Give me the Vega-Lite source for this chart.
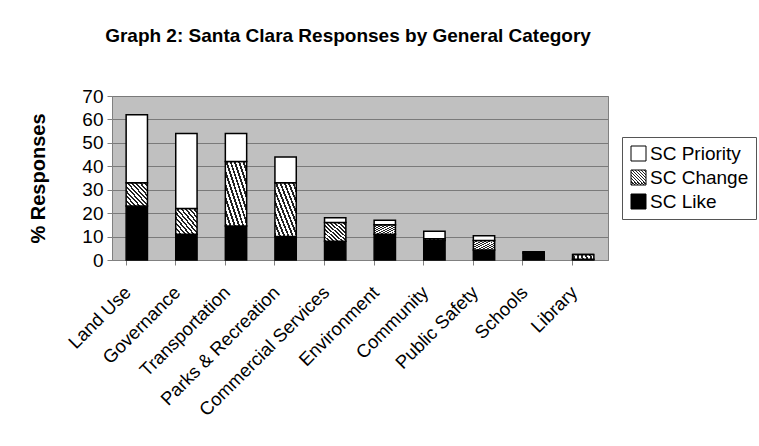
{
  "$schema": "https://vega.github.io/schema/vega-lite/v6.json",
  "width": 496,
  "height": 164,
  "autosize": {"type": "none"},
  "padding": {"left": 112, "top": 96, "right": 151, "bottom": 186},
  "background": "white",
  "config": {
    "font": "Liberation Sans",
    "view": {"fill": "#c0c0c0", "stroke": "#808080", "strokeWidth": 1}
  },
  "title": {
    "text": "Graph 2: Santa Clara Responses by General Category",
    "font": "Liberation Sans",
    "fontSize": 19,
    "fontWeight": "bold",
    "color": "black",
    "anchor": "middle",
    "frame": "group",
    "baseline": "alphabetic",
    "offset": 26,
    "dx": -12
  },
  "data": {
    "values": [
      {"category": "Land Use", "series": "SC Like", "value": 23},
      {"category": "Land Use", "series": "SC Change", "value": 10},
      {"category": "Land Use", "series": "SC Priority", "value": 29},
      {"category": "Governance", "series": "SC Like", "value": 11},
      {"category": "Governance", "series": "SC Change", "value": 11},
      {"category": "Governance", "series": "SC Priority", "value": 32},
      {"category": "Transportation", "series": "SC Like", "value": 14.5},
      {"category": "Transportation", "series": "SC Change", "value": 27.5},
      {"category": "Transportation", "series": "SC Priority", "value": 12},
      {"category": "Parks & Recreation", "series": "SC Like", "value": 10},
      {"category": "Parks & Recreation", "series": "SC Change", "value": 23},
      {"category": "Parks & Recreation", "series": "SC Priority", "value": 11},
      {"category": "Commercial Services", "series": "SC Like", "value": 8},
      {"category": "Commercial Services", "series": "SC Change", "value": 8},
      {"category": "Commercial Services", "series": "SC Priority", "value": 2},
      {"category": "Environment", "series": "SC Like", "value": 11},
      {"category": "Environment", "series": "SC Change", "value": 4},
      {"category": "Environment", "series": "SC Priority", "value": 2},
      {"category": "Community", "series": "SC Like", "value": 8.3},
      {"category": "Community", "series": "SC Change", "value": 0.8},
      {"category": "Community", "series": "SC Priority", "value": 3.2},
      {"category": "Public Safety", "series": "SC Like", "value": 4.3},
      {"category": "Public Safety", "series": "SC Change", "value": 4},
      {"category": "Public Safety", "series": "SC Priority", "value": 2},
      {"category": "Schools", "series": "SC Like", "value": 3},
      {"category": "Schools", "series": "SC Change", "value": 0.5},
      {"category": "Schools", "series": "SC Priority", "value": 0},
      {"category": "Library", "series": "SC Like", "value": 0.3},
      {"category": "Library", "series": "SC Change", "value": 2},
      {"category": "Library", "series": "SC Priority", "value": 0}
    ]
  },
  "transform": [
    {"calculate": "indexof(['SC Like','SC Change','SC Priority'], datum.series)", "as": "stackOrder"}
  ],
  "layer": [
    {
      "mark": {"type": "bar", "stroke": "black", "strokeWidth": 1.5},
      "encoding": {
        "x": {
          "field": "category",
          "type": "nominal",
          "sort": null,
          "scale": {"paddingInner": 0.57, "paddingOuter": 0.285},
          "axis": {
            "title": null,
            "orient": "bottom",
            "labelAngle": -45,
            "labelAlign": "right",
            "labelBaseline": "middle",
            "labelFontSize": 18.5,
            "labelColor": "black",
            "labelPadding": 29,
            "labelOffset": -9,
            "ticks": false,
            "tickSize": 0,
            "domain": true,
            "domainColor": "#808080",
            "grid": false
          }
        },
        "y": {
          "field": "value",
          "type": "quantitative",
          "stack": "zero",
          "scale": {"domain": [0, 70], "nice": false},
          "axis": {
            "title": "% Responses",
            "titleFontSize": 20,
            "titleFontWeight": "bold",
            "titleColor": "black",
            "titlePadding": 33,
            "values": [0, 10, 20, 30, 40, 50, 60, 70],
            "labelFontSize": 19,
            "labelColor": "black",
            "labelPadding": 4,
            "tickSize": 5,
            "tickColor": "#808080",
            "domainColor": "#808080",
            "grid": true,
            "gridColor": "#7a7a7a",
            "gridWidth": 1
          }
        },
        "fill": {
          "field": "series",
          "type": "nominal",
          "scale": {
            "domain": ["SC Priority", "SC Change", "SC Like"],
            "range": [
              "#ffffff",
              {"expr": "{gradient: 'linear', x1: 0, y1: 1, x2: 1, y2: 0, stops: [{offset: 0, color: '#222222'}, {offset: 0.045, color: '#222222'}, {offset: 0.045, color: '#ffffff'}, {offset: 0.1, color: '#ffffff'}, {offset: 0.1, color: '#222222'}, {offset: 0.145, color: '#222222'}, {offset: 0.145, color: '#ffffff'}, {offset: 0.2, color: '#ffffff'}, {offset: 0.2, color: '#222222'}, {offset: 0.245, color: '#222222'}, {offset: 0.245, color: '#ffffff'}, {offset: 0.3, color: '#ffffff'}, {offset: 0.3, color: '#222222'}, {offset: 0.345, color: '#222222'}, {offset: 0.345, color: '#ffffff'}, {offset: 0.4, color: '#ffffff'}, {offset: 0.4, color: '#222222'}, {offset: 0.445, color: '#222222'}, {offset: 0.445, color: '#ffffff'}, {offset: 0.5, color: '#ffffff'}, {offset: 0.5, color: '#222222'}, {offset: 0.545, color: '#222222'}, {offset: 0.545, color: '#ffffff'}, {offset: 0.6, color: '#ffffff'}, {offset: 0.6, color: '#222222'}, {offset: 0.645, color: '#222222'}, {offset: 0.645, color: '#ffffff'}, {offset: 0.7, color: '#ffffff'}, {offset: 0.7, color: '#222222'}, {offset: 0.745, color: '#222222'}, {offset: 0.745, color: '#ffffff'}, {offset: 0.8, color: '#ffffff'}, {offset: 0.8, color: '#222222'}, {offset: 0.845, color: '#222222'}, {offset: 0.845, color: '#ffffff'}, {offset: 0.9, color: '#ffffff'}, {offset: 0.9, color: '#222222'}, {offset: 0.945, color: '#222222'}, {offset: 0.945, color: '#ffffff'}, {offset: 1, color: '#ffffff'}]}"},
              "#000000"
            ]
          },
          "legend": {
            "title": null,
            "orient": "none",
            "legendX": 510,
            "legendY": 41,
            "strokeColor": "#555555",
            "fillColor": "white",
            "padding": 7,
            "labelFontSize": 19,
            "labelColor": "black",
            "labelOffset": 2,
            "symbolType": "square",
            "symbolSize": 225,
            "symbolStrokeColor": "black",
            "symbolStrokeWidth": 1,
            "rowPadding": 4,
            "encode": {
              "symbols": {
                "update": {
                  "stroke": {"value": "black"},
                  "strokeWidth": {"value": 1}
                }
              }
            }
          }
        },
        "order": {"field": "stackOrder", "type": "quantitative"}
      }
    },
    {
      "mark": {"type": "bar", "opacity": 0},
      "encoding": {
        "x": {
          "field": "category",
          "type": "nominal",
          "sort": null,
          "axis": {
            "title": null,
            "orient": "bottom",
            "labels": false,
            "ticks": true,
            "tickSize": 5,
            "tickColor": "#808080",
            "bandPosition": 0,
            "domain": false,
            "grid": false
          }
        }
      }
    }
  ],
  "resolve": {"axis": {"x": "independent"}}
}
